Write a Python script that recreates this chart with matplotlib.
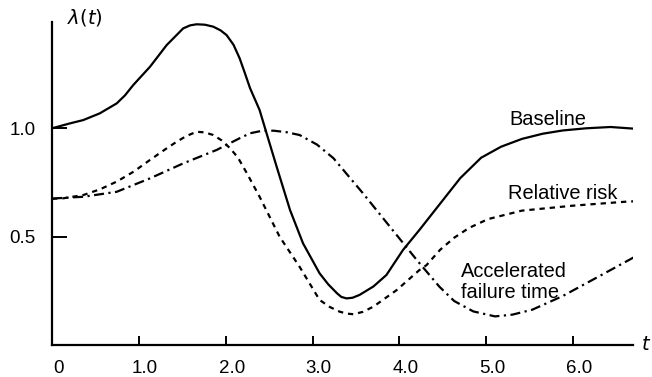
import matplotlib
matplotlib.use("Agg")
import matplotlib.pyplot as plt
import matplotlib.transforms as mtransforms

plt.rcParams['font.family'] = ['Liberation Sans', 'DejaVu Sans']
plt.rcParams['mathtext.fontset'] = 'dejavusans'

# hazard curves
t_base = [0, 0.2, 0.36, 0.55, 0.745, 0.84, 0.936, 1.128, 1.32, 1.51, 1.59, 1.665, 1.76, 1.856,
          1.94, 2.01, 2.09, 2.16, 2.22, 2.28, 2.34, 2.39, 2.47, 2.586, 2.74, 2.89, 3.08, 3.18,
          3.28, 3.33, 3.39, 3.46, 3.54, 3.7, 3.85, 4.04, 4.23, 4.46, 4.7, 4.94, 5.17, 5.41,
          5.65, 5.88, 6.15, 6.43, 6.71]
baseline = [1.0, 1.022, 1.038, 1.069, 1.115, 1.152, 1.2, 1.284, 1.384, 1.461, 1.475, 1.48, 1.478, 1.469,
            1.452, 1.43, 1.385, 1.323, 1.255, 1.185, 1.13, 1.084, 0.977, 0.823, 0.623, 0.469, 0.331, 0.28,
            0.239, 0.222, 0.215, 0.218, 0.231, 0.27, 0.323, 0.438, 0.531, 0.648, 0.77, 0.864, 0.915, 0.951,
            0.975, 0.99, 1.0, 1.006, 0.998]

t_rr = [0, 0.13, 0.36, 0.55, 0.745, 0.94, 1.128, 1.3, 1.435, 1.55, 1.665, 1.76, 1.856, 1.95,
        2.05, 2.14, 2.24, 2.39, 2.62, 2.85, 3.08, 3.2, 3.31, 3.39, 3.47, 3.58, 3.70, 3.97,
        4.23, 4.31, 4.47, 4.63, 4.8, 5.02, 5.41, 6.0, 6.63, 6.71]
rel_risk = [0.675, 0.677, 0.692, 0.718, 0.754, 0.80, 0.854, 0.902, 0.938, 0.965, 0.984, 0.981, 0.969, 0.945,
            0.908, 0.865, 0.795, 0.684, 0.50, 0.361, 0.208, 0.175, 0.154, 0.145, 0.142, 0.153, 0.177, 0.254,
            0.346, 0.368, 0.44, 0.495, 0.54, 0.581, 0.62, 0.643, 0.662, 0.663]

t_aft = [0, 0.05, 0.36, 0.745, 1.128, 1.51, 1.895, 2.16, 2.28, 2.4, 2.55, 2.7, 2.85, 3.05,
         3.24, 3.58, 3.89, 4.20, 4.46, 4.63, 4.85, 5.10, 5.3, 5.53, 5.88, 6.28, 6.71]
acc_fail = [0.675, 0.677, 0.684, 0.707, 0.769, 0.838, 0.90, 0.954, 0.977, 0.987, 0.989, 0.982, 0.969, 0.925,
            0.862, 0.70, 0.546, 0.392, 0.269, 0.203, 0.155, 0.132, 0.14, 0.163, 0.226, 0.313, 0.407]

xticks = [0, 1, 2, 3, 4, 5, 6]
xlabels = ['0', '1.0', '2.0', '3.0', '4.0', '5.0', '6.0']
yticks = [0.5, 1.0]
ylabels = ['0.5', '1.0']

fig = plt.figure(figsize=(6.52, 3.77), dpi=100)
ax = fig.add_axes([0.0798, 0.0849, 0.8912, 0.8576])

lw = 1.6
ax.plot(t_base, baseline, color='black', lw=lw, solid_joinstyle='round')
ax.plot(t_rr, rel_risk, color='black', lw=lw, linestyle=(0, (2.4, 2.2)))
ax.plot(t_aft, acc_fail, color='black', lw=lw, linestyle=(0, (4.5, 2.0, 1.0, 2.0)))

ax.set_xlim(0, 6.69)
ax.set_ylim(0, 1.492)

for side in ['top', 'right']:
    ax.spines[side].set_visible(False)
for side in ['left', 'bottom']:
    ax.spines[side].set_linewidth(1.6)

ax.set_xticks(xticks)
ax.set_xticklabels(xlabels)
ax.set_yticks(yticks)
ax.set_yticklabels(ylabels)
ax.tick_params(axis='x', direction='in', length=6.5, width=1.4, pad=11, labelsize=13.5)
ax.tick_params(axis='y', direction='in', length=11, width=1.4, pad=12, labelsize=13.5)

# labels sit a little right of their ticks in the original
shift = mtransforms.ScaledTranslation(6 / 100, 0, fig.dpi_scale_trans)
for lab in ax.get_xticklabels():
    lab.set_transform(lab.get_transform() + shift)

ax.text(0.17, 1.51, r'$\lambda(t)$', fontsize=14, ha='left', va='center', clip_on=False)
ax.text(6.78, 0.0, r'$t$', fontsize=14, ha='left', va='center', clip_on=False)

ax.text(5.27, 1.015, 'Baseline', fontsize=14.4, ha='left', va='baseline')
ax.text(5.25, 0.672, 'Relative risk', fontsize=14.4, ha='left', va='baseline')
ax.text(4.71, 0.314, 'Accelerated', fontsize=14.4, ha='left', va='baseline')
ax.text(4.71, 0.218, 'failure time', fontsize=14.4, ha='left', va='baseline')

fig.savefig('out.png', dpi=100)
